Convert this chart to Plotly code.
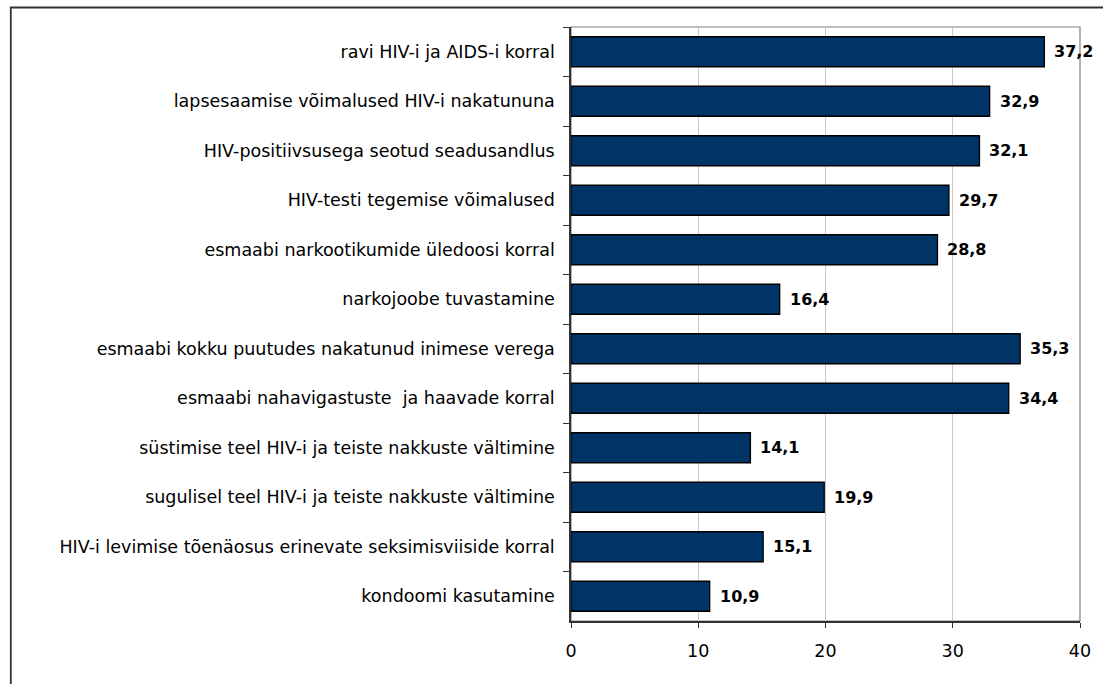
import plotly.graph_objects as go

# Topics, listed top to bottom as they appear on the chart
topics = [
    "ravi HIV-i ja AIDS-i korral",
    "lapsesaamise võimalused HIV-i nakatununa",
    "HIV-positiivsusega seotud seadusandlus",
    "HIV-testi tegemise võimalused",
    "esmaabi narkootikumide üledoosi korral",
    "narkojoobe tuvastamine",
    "esmaabi kokku puutudes nakatunud inimese verega",
    "esmaabi nahavigastuste \u00a0ja haavade korral",
    "süstimise teel HIV-i ja teiste nakkuste vältimine",
    "sugulisel teel HIV-i ja teiste nakkuste vältimine",
    "HIV-i levimise tõenäosus erinevate seksimisviiside korral",
    "kondoomi kasutamine",
]
shares = [37.2, 32.9, 32.1, 29.7, 28.8, 16.4, 35.3, 34.4, 14.1, 19.9, 15.1, 10.9]
x_ticks = [0, 10, 20, 30, 40]

FONT = "DejaVu Sans, Verdana, sans-serif"

# Plot area in pixels
W, H = 1103, 684
L, R, T, B = 571, 20, 27, 63
pw, ph = W - L - R, H - T - B

def px_x(p):
    return (p - L) / pw

def px_y(p):
    return (H - B - p) / ph

fig = go.Figure(
    go.Bar(
        x=shares,
        y=topics,
        orientation="h",
        marker=dict(color="#003366", line=dict(color="#000000", width=1.3)),
        hoverinfo="x+y",
    )
)

# Value labels at the end of each bar
for name, v in zip(topics, shares):
    fig.add_annotation(
        x=v, y=name, xref="x", yref="y",
        text="<b>" + f"{v:.1f}".replace(".", ",") + "</b>",
        showarrow=False, xanchor="left", yanchor="middle", xshift=8,
        font=dict(family=FONT, size=16, color="#000000"),
    )

fig.update_layout(
    width=W, height=H,
    margin=dict(l=L, r=R, t=T, b=B, pad=0),
    paper_bgcolor="white", plot_bgcolor="white",
    bargap=0.394,
    showlegend=False,
    font=dict(family=FONT, size=17.5, color="#000000"),
    shapes=[
        # gray frame of the plotting area (top and right edges show)
        dict(type="rect", xref="paper", yref="paper", x0=0, x1=1, y0=0, y1=1,
             line=dict(color="#808080", width=1.2), layer="below"),
        # outer chart border
        dict(type="rect", xref="paper", yref="paper",
             x0=px_x(7.5), x1=px_x(1108), y0=px_y(720), y1=px_y(7.5),
             line=dict(color="#333333", width=1.8)),
    ],
)

fig.update_xaxes(
    range=[0, 40], tickvals=x_ticks, ticktext=[str(t) for t in x_ticks],
    showgrid=True, gridcolor="#c8c8c8", gridwidth=1,
    showline=True, linecolor="#333333", linewidth=1.5,
    ticks="outside", ticklen=5, tickcolor="#333333", tickwidth=1.2,
    tickfont=dict(family=FONT, size=17.5, color="#000000"),
    ticklabelstandoff=8,
    zeroline=False, fixedrange=True,
)
fig.update_yaxes(
    autorange="reversed", type="category",
    showline=True, linecolor="#333333", linewidth=1.5,
    ticks="outside", ticklen=6, tickcolor="#333333", tickwidth=1.2,
    tickson="boundaries", showgrid=False,
    tickfont=dict(family=FONT, size=17.5, color="#000000"),
    ticklabelstandoff=11,
    fixedrange=True,
)

fig.write_html("out.html")
